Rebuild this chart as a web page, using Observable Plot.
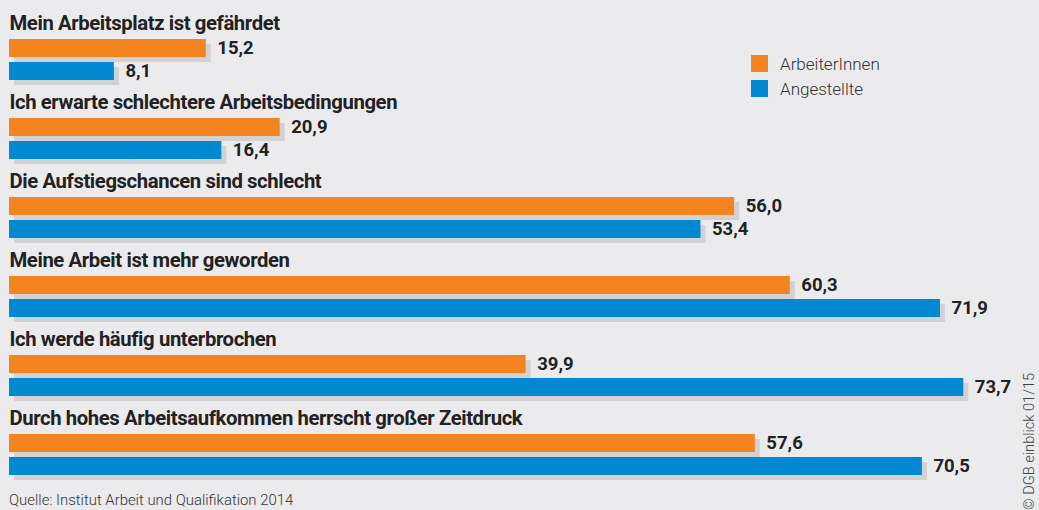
<!DOCTYPE html>
<html>
<head>
<meta charset="utf-8">
<script src="https://cdn.jsdelivr.net/npm/d3@7"></script>
<script src="https://cdn.jsdelivr.net/npm/@observablehq/plot@0.6"></script>
<style>
  html, body { margin: 0; padding: 0; background: #ebebed; }
  body { width: 1039px; height: 510px; overflow: hidden; font-family: "Roboto", sans-serif; }
  #wrap { position: relative; width: 1039px; height: 510px; }
  #legend { position: absolute; left: 751px; top: 51px; font-size: 17px; font-weight: 300; color: #333; }
  #legend .row { display: flex; align-items: center; height: 25px; }
  #legend .sw { width: 17px; height: 17px; margin-right: 12px; }
  #caption { position: absolute; left: 9px; top: 492px; font-size: 14.9px; line-height: 17px; font-weight: 300; color: #333; white-space: nowrap; }
  #copy { position: absolute; left: 1020px; top: 510px; transform: rotate(-90deg); transform-origin: 0 0; font-size: 14.6px; font-weight: 300; line-height: 18px; color: #444; white-space: nowrap; }
</style>
</head>
<body>
<div id="wrap">
  <div id="chart"></div>
  <div id="legend"></div>
  <div id="caption">Quelle: Institut Arbeit und Qualifikation 2014</div>
  <div id="copy">© DGB einblick 01/15</div>
</div>
<script>
const groups = [
  "Mein Arbeitsplatz ist gefährdet",
  "Ich erwarte schlechtere Arbeitsbedingungen",
  "Die Aufstiegschancen sind schlecht",
  "Meine Arbeit ist mehr geworden",
  "Ich werde häufig unterbrochen",
  "Durch hohes Arbeitsaufkommen herrscht großer Zeitdruck"
];
const series = ["ArbeiterInnen", "Angestellte"];
const arbeiterInnen = [15.2, 20.9, 56.0, 60.3, 39.9, 57.6];
const angestellte = [8.1, 16.4, 53.4, 71.9, 73.7, 70.5];
const colors = ["#f4841f", "#0088d0"];

const data = [];
groups.forEach((g, i) => {
  data.push({group: g, series: series[0], value: arbeiterInnen[i]});
  data.push({group: g, series: series[1], value: angestellte[i]});
});
const titles = groups.map(g => ({group: g}));
const fmt = v => v.toFixed(1).replace(".", ",");

const chart = Plot.plot({
  width: 1039,
  height: 490,
  marginTop: 8,
  marginBottom: 8,
  marginLeft: 9,
  marginRight: 20,
  style: {background: "#ebebed", fontFamily: "Roboto, sans-serif"},
  x: {domain: [0, 78], axis: null},
  y: {domain: series, paddingInner: 0.2083, paddingOuter: 0, insetTop: 30, insetBottom: 6, axis: null},
  fy: {domain: groups, padding: 0, axis: null},
  color: {domain: series, range: colors},
  marks: [
    Plot.barX(data, {fy: "group", y: "series", x1: 0, x2: "value", fill: "#d2d2d4", dx: 5, dy: 5}),
    Plot.barX(data, {fy: "group", y: "series", x1: 0, x2: "value", fill: "series"}),
    Plot.text(data, {fy: "group", y: "series", x: "value", text: d => fmt(d.value), dx: 11, textAnchor: "start", fontSize: 18.5, fontWeight: "bold", fill: "#222"}),
    Plot.text(titles, {fy: "group", text: "group", frameAnchor: "top-left", dy: 7, textAnchor: "start", fontSize: 20.3, fontWeight: "bold", fill: "#222"})
  ]
});
document.getElementById("chart").appendChild(chart);
chart.querySelectorAll("g[aria-label=text]").forEach((g, i) => { if (i === 1) g.setAttribute("letter-spacing", "-0.4"); });

const legend = document.getElementById("legend");
series.forEach((s, i) => {
  const row = document.createElement("div");
  row.className = "row";
  row.innerHTML = `<div class="sw" style="background:${colors[i]}"></div><span>${s}</span>`;
  legend.appendChild(row);
});
</script>
</body>
</html>
